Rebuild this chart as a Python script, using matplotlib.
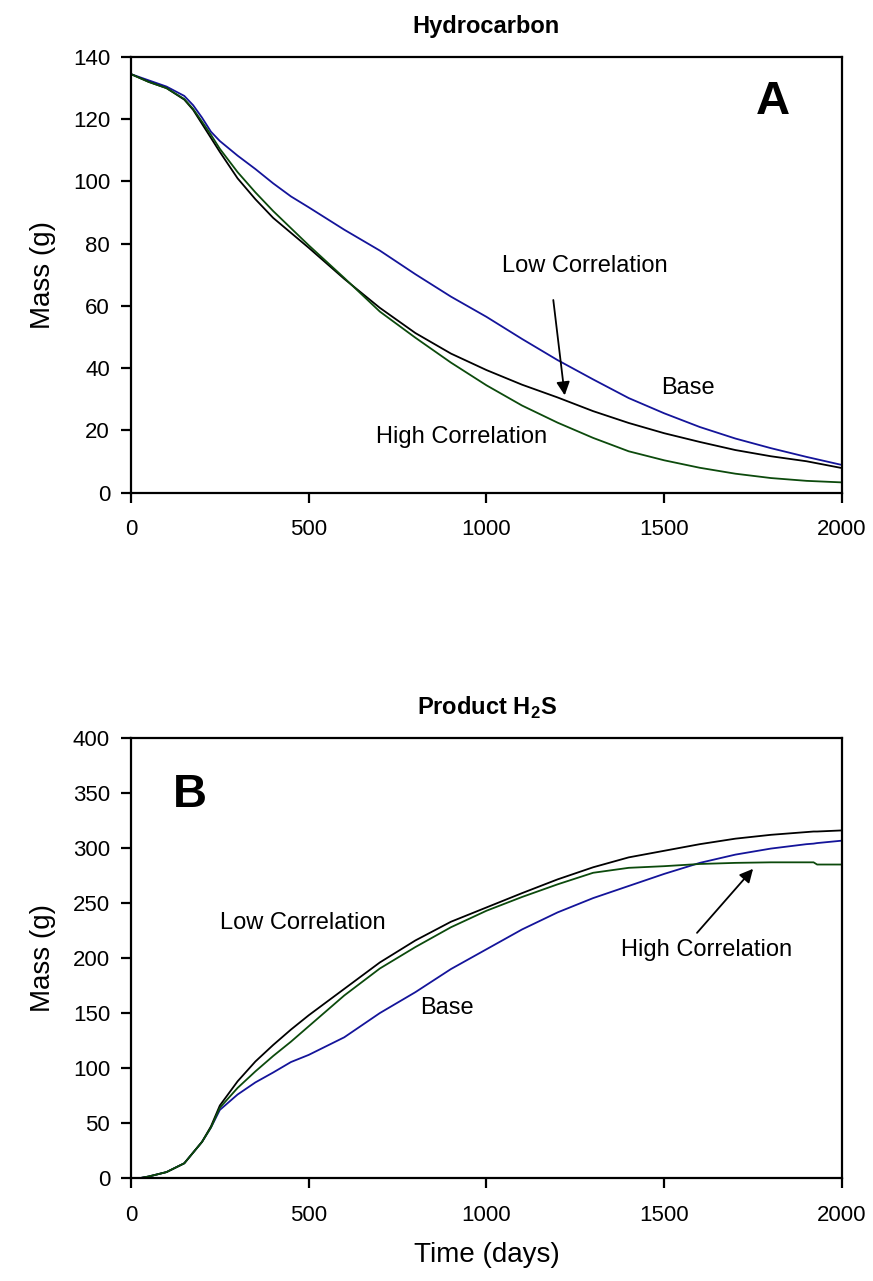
import matplotlib
matplotlib.use('Agg')
import matplotlib.pyplot as plt

plt.rcParams['font.family'] = ['Liberation Sans', 'DejaVu Sans']
plt.rcParams['mathtext.fontset'] = 'custom'
plt.rcParams['mathtext.rm'] = 'Liberation Sans'
plt.rcParams['mathtext.bf'] = 'Liberation Sans:bold'

# Hydrocarbon mass (g) vs time (days)
hc_days = [0, 50, 100, 150, 175, 200, 225, 250, 300, 350, 400, 450, 500, 600, 700,
           800, 900, 1000, 1100, 1200, 1300, 1400, 1500, 1600, 1700, 1800, 1900, 2000]
hc_base = [134.5, 132.5, 130.5, 127.5, 124.5, 120.5, 116.0, 113.0, 108.3, 104.0, 99.4,
           95.2, 91.7, 84.5, 77.8, 70.2, 63.0, 56.5, 49.4, 42.6, 36.4, 30.4, 25.5, 21.1,
           17.4, 14.3, 11.5, 8.9]
hc_low = [134.5, 132.0, 130.0, 126.3, 123.0, 118.5, 114.0, 109.5, 101.0, 94.3, 88.3,
          83.5, 78.7, 68.7, 59.4, 51.3, 44.7, 39.4, 34.7, 30.6, 26.2, 22.4, 19.1, 16.3,
          13.7, 11.7, 10.1, 7.9]
hc_high = [134.5, 132.0, 130.0, 126.5, 123.3, 119.2, 115.0, 110.5, 103.0, 96.5, 90.5,
           85.0, 79.5, 69.0, 58.2, 49.8, 41.8, 34.5, 28.0, 22.5, 17.6, 13.3, 10.4, 8.0,
           6.1, 4.7, 3.8, 3.3]

# Product H2S mass (g) vs time (days)
h2s_days = [0, 25, 50, 100, 150, 200, 225, 250, 300, 350, 400, 450, 500, 600, 700, 800,
            900, 1000, 1100, 1200, 1300, 1400, 1500, 1600, 1700, 1800, 1900, 1920, 1930, 2000]
h2s_base = [0, 0, 1.5, 5.5, 13.5, 33, 46, 62, 76, 87, 96, 105.5, 112, 128, 150, 169,
            190, 208, 226, 241.5, 254.5, 265.5, 276.5, 286.5, 294, 299.5, 303.5, 304, 304.5, 306.7]
h2s_low = [0, 0, 1.5, 5.5, 13.5, 33, 47, 66, 88, 106, 121, 135, 148, 172, 196, 216,
           233, 246, 259, 271.5, 282.5, 291.5, 297.5, 303.5, 308.5, 312, 314.5, 315, 315, 316]
h2s_high = [0, 0, 1.5, 5.5, 13.5, 33, 46, 64, 82, 97, 111, 124, 138, 166, 190.5, 210,
            228, 243, 255.5, 267, 277.5, 282, 283.5, 285.5, 286.5, 287, 287, 287, 285, 285]

c_base = '#14149a'
c_low = 'black'
c_high = '#0c4a0c'

fig = plt.figure(figsize=(8.73, 12.81), dpi=100)
ax1 = fig.add_axes([0.150, 0.6154, 0.8145, 0.3401])
ax2 = fig.add_axes([0.150, 0.0803, 0.8145, 0.3436])

for ax in (ax1, ax2):
    for s in ax.spines.values():
        s.set_linewidth(1.6)
    ax.tick_params(direction='out', length=7, width=1.6, labelsize=16)
    ax.tick_params(axis='x', pad=12)
    ax.tick_params(axis='y', pad=8)
    ax.set_xlim(0, 2000)
    ax.set_xticks([0, 500, 1000, 1500, 2000])
    ax.set_ylabel('Mass (g)', fontsize=20, labelpad=12)

# panel A
ax1.plot(hc_days, hc_base, color=c_base, lw=1.3)
ax1.plot(hc_days, hc_low, color=c_low, lw=1.3)
ax1.plot(hc_days, hc_high, color=c_high, lw=1.3)
ax1.set_ylim(0, 140)
ax1.set_yticks(range(0, 141, 20))
ax1.set_title('Hydrocarbon', fontsize=17, fontweight='bold', pad=17)
ax1.text(1806, 125.5, 'A', fontsize=34, fontweight='bold', ha='center', va='center')
ax1.text(1277, 73, 'Low Correlation', fontsize=17, ha='center', va='center')
ax1.text(1567, 33.6, 'Base', fontsize=17, ha='center', va='center')
ax1.text(931, 17.9, 'High Correlation', fontsize=17, ha='center', va='center')
ax1.annotate('', xy=(1221, 30.4), xytext=(1187, 62.8),
             arrowprops=dict(arrowstyle='-|>', color='black', lw=1.3, mutation_scale=20))

# panel B
ax2.plot(h2s_days, h2s_base, color=c_base, lw=1.3)
ax2.plot(h2s_days, h2s_low, color=c_low, lw=1.3)
ax2.plot(h2s_days, h2s_high, color=c_high, lw=1.3)
ax2.set_ylim(0, 400)
ax2.set_yticks(range(0, 401, 50))
ax2.set_title(r'Product H$_{\mathbf{2}}$S', fontsize=17, fontweight='bold', pad=17)
ax2.set_xlabel('Time (days)', fontsize=20, labelpad=12)
ax2.text(166, 348.5, 'B', fontsize=34, fontweight='bold', ha='center', va='center')
ax2.text(484, 232, 'Low Correlation', fontsize=17, ha='center', va='center')
ax2.text(889, 155, 'Base', fontsize=17, ha='center', va='center')
ax2.text(1620, 207.5, 'High Correlation', fontsize=17, ha='center', va='center')
ax2.annotate('', xy=(1755, 283), xytext=(1587, 221),
             arrowprops=dict(arrowstyle='-|>', color='black', lw=1.3, mutation_scale=20))

fig.savefig('out.png', dpi=100)
